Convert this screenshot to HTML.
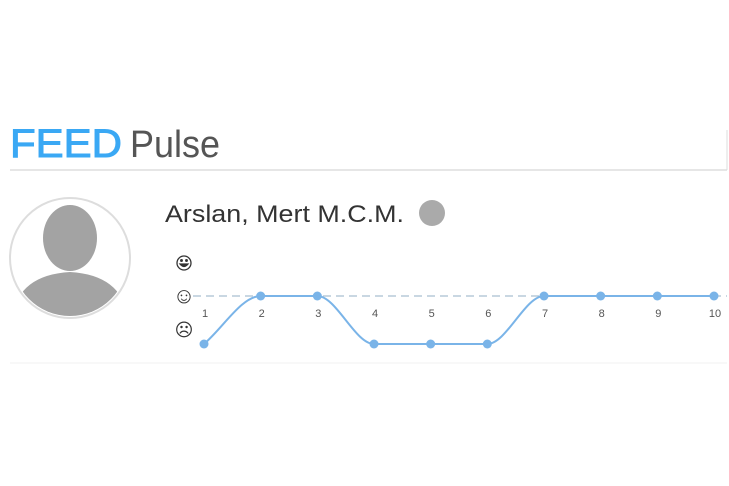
<!DOCTYPE html>
<html><head><meta charset="utf-8"><style>
body{margin:0;width:729px;height:486px;background:#fff;overflow:hidden;font-family:"Liberation Sans",sans-serif;position:relative}
</style></head><body>
<svg width="729" height="486" style="position:absolute;left:0;top:0">
<text x="10" y="157" font-size="40" fill="#3aa8f4" textLength="112" lengthAdjust="spacingAndGlyphs" stroke="#3aa8f4" stroke-width="1">FEED</text>
<text x="130" y="157" font-size="38" fill="#555" textLength="90" lengthAdjust="spacingAndGlyphs">Pulse</text>
<line x1="10" y1="170" x2="727" y2="170" stroke="#ddd" stroke-width="1.5"/>
<line x1="727" y1="130" x2="727" y2="170" stroke="#ddd"/>
<g>
<circle cx="70" cy="258" r="60" fill="#fff" stroke="#ddd" stroke-width="2"/>
<clipPath id="c"><circle cx="70" cy="258" r="58"/></clipPath>
<g clip-path="url(#c)" fill="#a3a3a3">
<ellipse cx="70" cy="238" rx="27" ry="33"/>
<path d="M12 318 Q18 275 70 272 Q122 275 128 318 Z"/>
</g></g>
<text x="165" y="222" font-size="24" fill="#333" textLength="239" lengthAdjust="spacingAndGlyphs">Arslan, Mert M.C.M.</text>
<circle cx="432" cy="213" r="13" fill="#aaa"/>
<line x1="10" y1="363" x2="727" y2="363" stroke="#f0f0f0"/>
<g fill="none" stroke="#333" stroke-width="1.3">
<circle cx="184" cy="263" r="7"/>
<circle cx="181.5" cy="260.5" r="0.8" fill="#333"/>
<circle cx="186.5" cy="260.5" r="0.8" fill="#333"/>
<path d="M180 264 Q184 269 188 264 Z" fill="#333"/>
</g>
<text x="184" y="303" font-size="22" text-anchor="middle" fill="#333">☺</text>
<text x="184" y="336" font-size="18" text-anchor="middle" fill="#333">☹</text>
<line x1="193" y1="296" x2="727" y2="296" stroke="#a9bfd1" stroke-dasharray="8,5" stroke-width="1.3"/>
<g id="chart"></g>
</svg>
<script>
const categories=["1","2","3","4","5","6","7","8","9","10"];
const values=[1,2,2,1,1,1,2,2,2,2];
const xs=i=>204+i*(714-204)/(categories.length-1);
const ys=v=>296-(v-2)*48;
const g=document.getElementById('chart');
const NS="http://www.w3.org/2000/svg";
const n=values.length;
const sl=values.map((v,i)=>{
  const dx=(714-204)/(n-1);
  if(i===0) return (ys(values[1])-ys(v))/dx;
  if(i===n-1) return 0;
  const a=(ys(v)-ys(values[i-1]))/dx,b=(ys(values[i+1])-ys(v))/dx;
  if(a*b<=0) return 0;
  return (a+b)/2;
});
let d=`M${xs(0)},${ys(values[0])}`;
for(let i=1;i<n;i++){const x0=xs(i-1),x1=xs(i),h=(x1-x0)/3;
d+=` C${x0+h},${ys(values[i-1])+sl[i-1]*h} ${x1-h},${ys(values[i])-sl[i]*h} ${x1},${ys(values[i])}`;}
const p=document.createElementNS(NS,'path');
p.setAttribute('d',d);p.setAttribute('fill','none');p.setAttribute('stroke','#7ab4e8');p.setAttribute('stroke-width','2');


g.appendChild(p);
values.forEach((v,i)=>{
const c=document.createElementNS(NS,'circle');
c.setAttribute('cx',xs(i));c.setAttribute('cy',ys(v));c.setAttribute('r','4.5');c.setAttribute('fill','#7ab4e8');


g.appendChild(c);
const t=document.createElementNS(NS,'text');
t.setAttribute('x',xs(i)+1);t.setAttribute('y',317);t.setAttribute('font-size','11');t.setAttribute('text-anchor','middle');t.setAttribute('fill','#555');
t.textContent=categories[i];


g.appendChild(t);
});
</script>
</body></html>
